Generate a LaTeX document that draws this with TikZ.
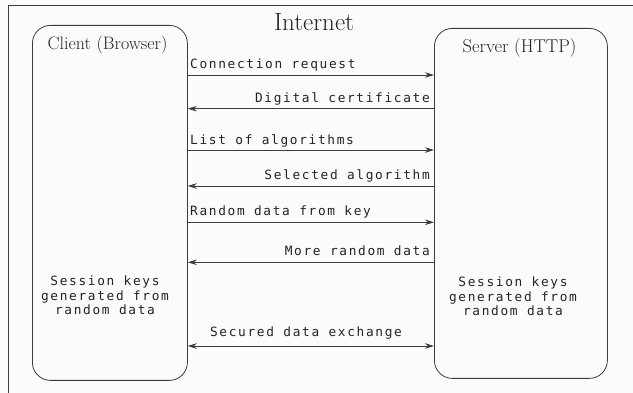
\documentclass[tikz,border=0pt]{standalone}
\usepackage{fontspec}
\newfontfamily\monof[LetterSpace=13]{DejaVu Sans Mono}
\usetikzlibrary{arrows.meta}
\definecolor{paper}{RGB}{251,251,249}
\definecolor{ink}{RGB}{60,60,60}
\definecolor{txt}{RGB}{35,35,35}
\tikzset{
  ln/.style={draw=ink, line width=0.8pt},
  partybox/.style={ln, rounded corners=18pt, inner sep=0pt},
  msg/.style={ln, -{Stealth[length=9pt,width=5.5pt]}},
  msgboth/.style={ln, {Stealth[length=9pt,width=5.5pt]}-{Stealth[length=9pt,width=5.5pt]}},
  lbl/.style={font=\monof\fontsize{12.8}{14.5}\selectfont, inner sep=0pt, text=txt},
  serifbig/.style={inner sep=0pt, text=txt},
}
\begin{document}
\begin{tikzpicture}[x=1pt,y=-1pt]
\useasboundingbox[fill=paper] (0,0) rectangle (633,393);
% frame
\coordinate (fbl) at (8,393);
\coordinate (ftl) at (8,5.5);
\coordinate (ftr) at (633,5.5);
\draw[ln] (fbl) -- (ftl) -- (ftr);
% boxes
\node[partybox, minimum width=155pt, minimum height=355pt, anchor=north west] (client) at (32,25) {};
\node[partybox, minimum width=173pt, minimum height=350pt, anchor=north west] (server) at (434,28) {};
% titles
\node[serifbig, font=\fontsize{25}{30}\selectfont, anchor=base] (title) at (314,31) {Internet};
\node[serifbig, font=\fontsize{18}{22}\selectfont, anchor=base] (ctitle) at (107.5,50) {Client (Browser)};
\node[serifbig, font=\fontsize{18.5}{22}\selectfont, anchor=base] (stitle) at (519.5,53) {Server (HTTP)};
% row heights
\coordinate (y1) at (0,75);
\coordinate (y2) at (0,108.7);
\coordinate (y3) at (0,150);
\coordinate (y4) at (0,186);
\coordinate (y5) at (0,222.3);
\coordinate (y6) at (0,262.3);
\coordinate (y7) at (0,346);
% messages
\draw[msg] (client.east |- y1) -- (server.west |- y1);
\draw[msg] (server.west |- y2) -- (client.east |- y2);
\draw[msg] (client.east |- y3) -- (server.west |- y3);
\draw[msg] (server.west |- y4) -- (client.east |- y4);
\draw[msg] (client.east |- y5) -- (server.west |- y5);
\draw[msg] (server.west |- y6) -- (client.east |- y6);
\draw[msgboth] (client.east |- y7) -- (server.west |- y7);
% labels
\node[lbl, anchor=base west] (m1) at (190,69) {Connection request};
\node[lbl, anchor=base east] (m2) at (430,102.5) {Digital certificate};
\node[lbl, anchor=base west] (m3) at (190,144.5) {List of algorithms};
\node[lbl, anchor=base east] (m4) at (430,180) {Selected algorithm};
\node[lbl, anchor=base west] (m5) at (190,216) {Random data from key};
\node[lbl, anchor=base east] (m6) at (430,256) {More random data};
\node[lbl, anchor=base] (m7) at (306,337) {Secured data exchange};
% session keys
\node[lbl, align=center, anchor=north] (ck) at (105,276) {Session keys\\generated from\\random data};
\node[lbl, align=center, anchor=north] (sk) at (513,277) {Session keys\\generated from\\random data};
\end{tikzpicture}
\end{document}
